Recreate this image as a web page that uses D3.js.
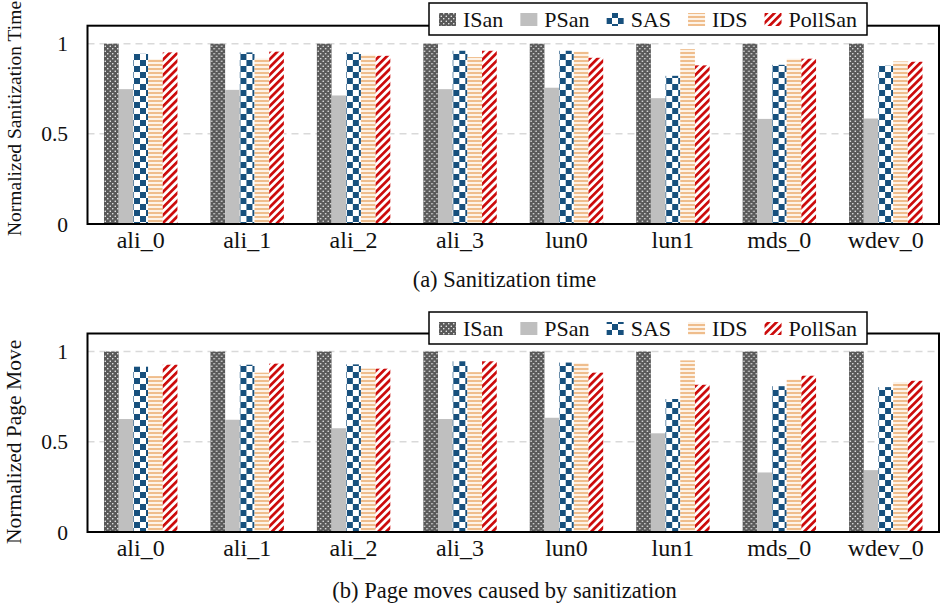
<!DOCTYPE html>
<html>
<head>
<meta charset="utf-8">
<script src="https://cdn.jsdelivr.net/npm/d3@7"></script>
<style>
  body { margin: 0; background: #fff; }
  svg text { font-family: "Liberation Serif", "DejaVu Serif", serif; }
</style>
</head>
<body>
<div class="chart"></div>
<script>
const categories = ['ali_0', 'ali_1', 'ali_2', 'ali_3', 'lun0', 'lun1', 'mds_0', 'wdev_0'];
const series = ['ISan', 'PSan', 'SAS', 'IDS', 'PollSan'];
const yTicks = [0, 0.5, 1];
const yTickLabels = ['0', '0.5', '1'];

// (a) normalized sanitization time
const timeISan = [1, 1, 1, 1, 1, 1, 1, 1];
const timePSan = [0.748, 0.744, 0.713, 0.748, 0.756, 0.698, 0.583, 0.585];
const timeSAS = [0.944, 0.952, 0.952, 0.961, 0.961, 0.822, 0.883, 0.878];
const timeIDS = [0.915, 0.918, 0.939, 0.926, 0.957, 0.970, 0.917, 0.902];
const timePollSan = [0.952, 0.956, 0.933, 0.961, 0.922, 0.880, 0.917, 0.900];

// (b) normalized page moves
const moveISan = [1, 1, 1, 1, 1, 1, 1, 1];
const movePSan = [0.626, 0.622, 0.575, 0.626, 0.633, 0.547, 0.330, 0.343];
const moveSAS = [0.916, 0.927, 0.929, 0.946, 0.939, 0.737, 0.808, 0.803];
const moveIDS = [0.864, 0.883, 0.905, 0.886, 0.937, 0.951, 0.845, 0.831];
const movePollSan = [0.927, 0.933, 0.905, 0.946, 0.883, 0.816, 0.866, 0.838];

const width = 941;
const height = 608;
const left = 87.5;
const right = 939;
const font = '"Liberation Serif", "DejaVu Serif", serif';

const color = {
  isan: '#595959',
  psan: '#bfbfbf',
  sas: '#17507d',
  ids: '#efbd8c',
  poll: '#cc0a0a',
  grid: '#d9d9d9',
};

const panels = [
  {
    top: 25.7, bottom: 224,
    values: [timeISan, timePSan, timeSAS, timeIDS, timePollSan],
    ylabel: 'Normalized Sanitization Time', ylabelSize: 19.5,
    caption: '(a) Sanitization time', captionY: 287,
    legendY: 3,
  },
  {
    top: 333.5, bottom: 532,
    values: [moveISan, movePSan, moveSAS, moveIDS, movePollSan],
    ylabel: 'Normalized Page Move', ylabelSize: 21.5,
    caption: '(b) Page moves caused by sanitization', captionY: 598,
    legendY: 312,
  },
];

const svg = d3.select('.chart')
  .append('svg')
    .attr('width', width)
    .attr('height', height)
    .attr('viewBox', [0, 0, width, height])
    .attr('font-family', font);

svg.append('rect')
  .attr('width', width)
  .attr('height', height)
  .attr('fill', '#fff');

const defs = svg.append('defs');

// dotted dark grey
const pIsan = defs.append('pattern')
  .attr('id', 'pat-ISan')
  .attr('patternUnits', 'userSpaceOnUse')
  .attr('width', 5)
  .attr('height', 5);
pIsan.append('rect').attr('width', 5).attr('height', 5).attr('fill', color.isan);
pIsan.append('circle').attr('cx', 1.25).attr('cy', 1.25).attr('r', 0.75).attr('fill', '#fff');
pIsan.append('circle').attr('cx', 3.75).attr('cy', 3.75).attr('r', 0.75).attr('fill', '#fff');

// solid light grey
defs.append('pattern')
  .attr('id', 'pat-PSan')
  .attr('patternUnits', 'userSpaceOnUse')
  .attr('width', 4)
  .attr('height', 4)
  .append('rect')
    .attr('width', 4)
    .attr('height', 4)
    .attr('fill', color.psan);

// checkerboard
const pSas = defs.append('pattern')
  .attr('id', 'pat-SAS')
  .attr('patternUnits', 'userSpaceOnUse')
  .attr('width', 12)
  .attr('height', 12);
pSas.append('rect').attr('width', 12).attr('height', 12).attr('fill', '#fff');
pSas.append('rect').attr('width', 6).attr('height', 6).attr('fill', color.sas);
pSas.append('rect').attr('x', 6).attr('y', 6).attr('width', 6).attr('height', 6).attr('fill', color.sas);

// horizontal stripes
const pIds = defs.append('pattern')
  .attr('id', 'pat-IDS')
  .attr('patternUnits', 'userSpaceOnUse')
  .attr('width', 4)
  .attr('height', 4);
pIds.append('rect').attr('width', 4).attr('height', 4).attr('fill', '#fdf3e8');
pIds.append('rect').attr('width', 4).attr('height', 2).attr('fill', color.ids);

// diagonal red stripes
const pPoll = defs.append('pattern')
  .attr('id', 'pat-PollSan')
  .attr('patternUnits', 'userSpaceOnUse')
  .attr('width', 5.5)
  .attr('height', 5.5)
  .attr('patternTransform', 'rotate(45)');
pPoll.append('rect').attr('width', 5.5).attr('height', 5.5).attr('fill', '#fff');
pPoll.append('rect').attr('width', 2.7).attr('height', 5.5).attr('fill', color.poll);

const x0 = d3.scaleBand()
  .domain(categories)
  .range([left, right])
  .paddingInner(0.31)
  .paddingOuter(0.155);

const x1 = d3.scaleBand()
  .domain(series)
  .range([0, x0.bandwidth()]);

panels.forEach(drawPanel);

function drawPanel(p) {
  const y = d3.scaleLinear()
    .domain([0, 1.1])
    .range([p.bottom, p.top]);

  const g = svg.append('g');

  // dashed grid
  g.selectAll('.grid')
    .data(yTicks.filter(d => d > 0))
    .enter().append('line')
      .attr('x1', left)
      .attr('x2', right)
      .attr('y1', d => y(d))
      .attr('y2', d => y(d))
      .attr('stroke', color.grid)
      .attr('stroke-width', 1.5)
      .attr('stroke-dasharray', '7,5');

  const group = g.selectAll('.group')
    .data(categories)
    .enter().append('g')
      .attr('transform', d => `translate(${x0(d)},0)`);

  group.selectAll('rect')
    .data((d, i) => series.map((s, j) => ({ s, v: p.values[j][i] })))
    .enter().append('rect')
      .attr('x', d => x1(d.s))
      .attr('width', x1.bandwidth())
      .attr('y', d => y(d.v))
      .attr('height', d => y(0) - y(d.v))
      .attr('fill', d => `url(#pat-${d.s})`);

  // frame
  g.append('rect')
    .attr('x', left)
    .attr('y', p.top)
    .attr('width', right - left)
    .attr('height', p.bottom - p.top)
    .attr('fill', 'none')
    .attr('stroke', '#000')
    .attr('stroke-width', 2);

  // y tick labels
  g.selectAll('.ytick')
    .data(yTicks)
    .enter().append('text')
      .attr('x', 68)
      .attr('y', d => y(d))
      .attr('dy', '0.35em')
      .attr('text-anchor', 'end')
      .attr('font-family', font)
      .attr('font-size', 21.5)
      .attr('fill', '#111')
      .text((d, i) => yTickLabels[i]);

  // x labels
  g.selectAll('.xlabel')
    .data(categories)
    .enter().append('text')
      .attr('x', d => x0(d) + x0.bandwidth() / 2)
      .attr('y', p.bottom + 24)
      .attr('text-anchor', 'middle')
      .attr('font-family', font)
      .attr('font-size', 24)
      .attr('fill', '#111')
      .text(d => d);

  g.append('text')
    .attr('transform', `translate(21,${p.bottom + 12}) rotate(-90)`)
    .attr('font-family', font)
    .attr('font-size', p.ylabelSize)
    .attr('fill', '#111')
    .text(p.ylabel);

  g.append('text')
    .attr('x', 504.5)
    .attr('y', p.captionY)
    .attr('text-anchor', 'middle')
    .attr('font-family', font)
    .attr('font-size', 22.5)
    .attr('fill', '#111')
    .text(p.caption);

  drawLegend(g, p.legendY);
}

function drawLegend(g, top) {
  const boxX = 429;
  const boxW = 438;
  const boxH = 32;
  const legend = g.append('g');

  legend.append('rect')
    .attr('x', boxX)
    .attr('y', top)
    .attr('width', boxW)
    .attr('height', boxH)
    .attr('fill', '#fff')
    .attr('stroke', '#000')
    .attr('stroke-width', 1.5);

  const item = legend.selectAll('.item')
    .data(series)
    .enter().append('g');

  item.append('rect')
    .attr('width', 17)
    .attr('height', 13)
    .attr('y', top + 10)
    .attr('fill', d => `url(#pat-${d})`);

  const label = item.append('text')
    .attr('y', top + 24)
    .attr('font-family', font)
    .attr('font-size', 22)
    .attr('fill', '#111')
    .text(d => d);

  const widths = label.nodes().map(n => n.getComputedTextLength());
  const total = d3.sum(widths) + series.length * 24;
  const gap = (boxW - 20 - total) / (series.length - 1);
  let cx = boxX + 10;
  item.each(function(d, i) {
    const el = d3.select(this);
    el.select('rect').attr('x', cx);
    el.select('text').attr('x', cx + 24);
    cx += 24 + widths[i] + gap;
  });
}
</script>
</body>
</html>
